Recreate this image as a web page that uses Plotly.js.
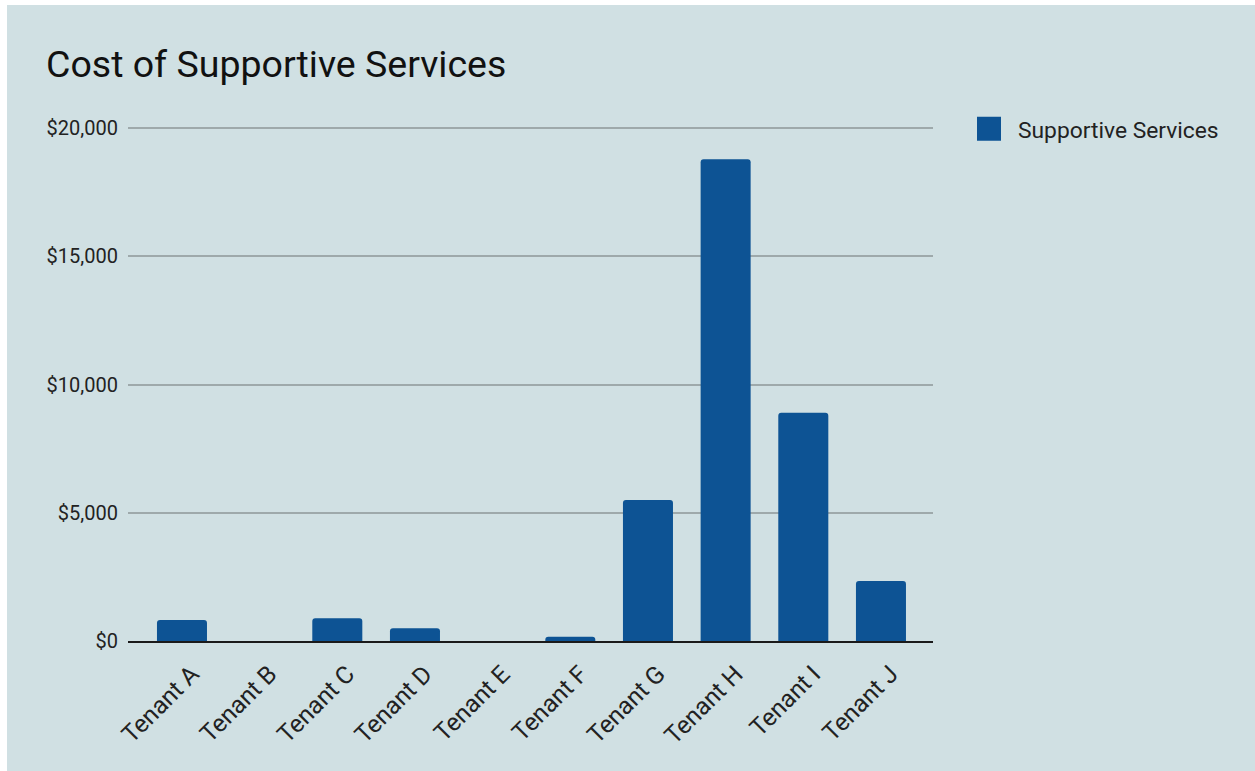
<!DOCTYPE html>
<html>
<head>
<meta charset="utf-8">
<script src="https://cdn.plot.ly/plotly-3.0.1.min.js"></script>
<style>
  html, body { margin: 0; padding: 0; background: #ffffff; width: 1255px; height: 771px; overflow: hidden; }
  #chart { position: absolute; left: 7px; top: 5px; width: 1248px; height: 766px; }
</style>
</head>
<body>
<div id="chart"></div>
<script>
// Data
const tenants = ["Tenant A", "Tenant B", "Tenant C", "Tenant D", "Tenant E",
                 "Tenant F", "Tenant G", "Tenant H", "Tenant I", "Tenant J"];
const supportiveServices = [820, 0, 890, 500, 0, 170, 5500, 18780, 8900, 2340];
const seriesName = "Supportive Services";
const chartTitle = "Cost of Supportive Services";
const yTickValues = [0, 5000, 10000, 15000, 20000];
const yTickLabels = ["$0", "$5,000", "$10,000", "$15,000", "$20,000"];

const W = 1248, H = 766;
const M = { l: 121, r: 322, t: 121, b: 130 };
// keep $20,000 gridline inside the plot so it is drawn: 513 px per 20,000
const plotH = H - M.t - M.b;
const yTop = plotH * 20000 / 513;

const trace = {
  type: "bar",
  x: tenants,
  y: supportiveServices,
  name: seriesName,
  marker: { color: "#0d5394", line: { width: 0 } },
  showlegend: true
};

const layout = {
  width: W,
  height: H,
  paper_bgcolor: "#d0e0e3",
  plot_bgcolor: "#d0e0e3",
  margin: { l: M.l, r: M.r, t: M.t, b: M.b, pad: 0 },
  font: { family: "Roboto, sans-serif", color: "#222222", size: 20 },
  title: {
    text: chartTitle,
    font: { family: "Roboto, sans-serif", size: 37.5, color: "#111111" },
    x: 39 / W, xref: "container", xanchor: "left",
    y: 1 - 59 / H, yref: "container", yanchor: "middle"
  },
  bargap: 0.356,
  barcornerradius: 3,
  xaxis: {
    type: "category",
    range: [-0.695, 9.67],
    tickangle: -45,
    ticks: "",
    showgrid: false,
    showline: true,
    linecolor: "#1a1a1a",
    linewidth: 2,
    zeroline: false,
    ticklabelshift: 10,
    ticklabelstandoff: 7,
    tickfont: { size: 24.5, color: "#222222" },
    fixedrange: true
  },
  yaxis: {
    range: [0, yTop],
    tickmode: "array",
    tickvals: yTickValues,
    ticktext: yTickLabels,
    ticks: "",
    showgrid: true,
    gridcolor: "#9ea9ab",
    gridwidth: 2,
    zeroline: false,
    showline: false,
    ticklabelstandoff: 9,
    tickfont: { size: 20, color: "#222222" },
    fixedrange: true
  },
  legend: {
    x: (960 - 128) / 805,
    xanchor: "left",
    y: (641 - 131) / 513,
    yanchor: "middle",
    bgcolor: "rgba(0,0,0,0)",
    font: { size: 22.8, color: "#222222" },
    itemwidth: 48
  },
  showlegend: true
};

function enlargeLegendSymbol() {
  document.querySelectorAll("#chart .legendpoints path").forEach(p => {
    p.setAttribute("d", "M12,12H-12V-12H12Z");
    p.style.strokeWidth = "0px";
  });
}

const gd = document.getElementById("chart");
Plotly.newPlot(gd, [trace], layout, { displayModeBar: false, staticPlot: true })
  .then(() => {
    enlargeLegendSymbol();
    gd.on && gd.on("plotly_afterplot", enlargeLegendSymbol);
  });
</script>
</body>
</html>
